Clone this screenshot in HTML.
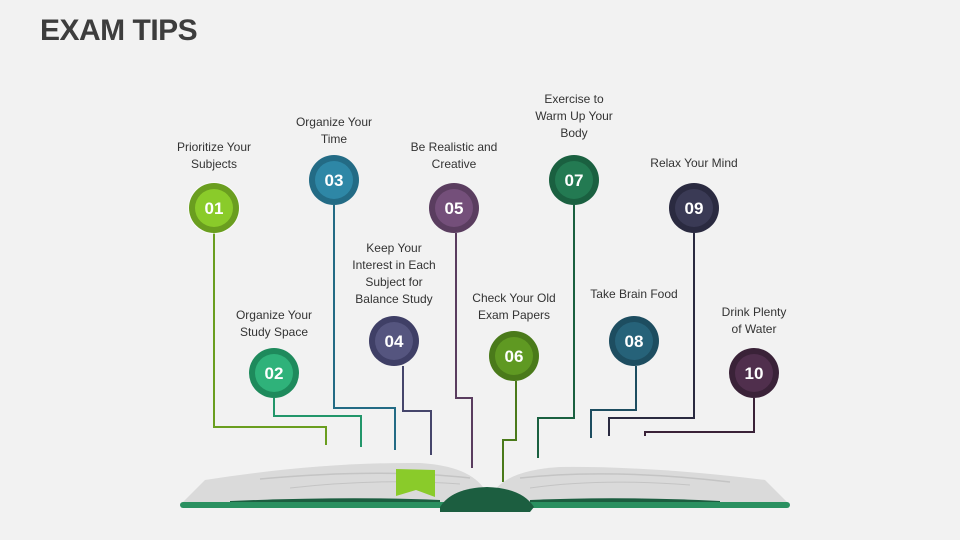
<!DOCTYPE html>
<html><head><meta charset="utf-8"><style>
body{margin:0;background:#f2f2f2;}
#c{position:relative;width:960px;height:540px;overflow:hidden;background:#f2f2f2;font-family:"Liberation Sans",sans-serif;}
h1{position:absolute;left:40px;top:14px;margin:0;font-size:30px;font-weight:bold;color:#3d3d3d;letter-spacing:-0.5px}
.l{position:absolute;width:140px;text-align:center;font-size:12px;line-height:17px;color:#333}
</style></head><body><div id="c">
<h1>EXAM TIPS</h1>
<svg width="960" height="540" style="position:absolute;left:0;top:0">
<g fill="none" stroke-width="2">
<polyline points="214,233 214,427 326,427 326,445" stroke="#6a9e1f"/>
<polyline points="274,398 274,416 361,416 361,447" stroke="#22966a"/>
<polyline points="334,205 334,408 395,408 395,450" stroke="#236b85"/>
<polyline points="403,366 403,411 431,411 431,455" stroke="#45456b"/>
<polyline points="456,233 456,398 472,398 472,468" stroke="#5a3d5f"/>
<polyline points="516,381 516,440 503,440 503,482" stroke="#4a7a1a"/>
<polyline points="574,205 574,418 538,418 538,458" stroke="#1a6040"/>
<polyline points="636,366 636,410 591,410 591,438" stroke="#1d4d60"/>
<polyline points="694,233 694,418 609,418 609,436" stroke="#2a2a40"/>
<polyline points="754,398 754,432 645,432 645,436" stroke="#3a2238"/>
</g>
<g font-family="Liberation Sans" font-weight="bold" font-size="17" fill="#fff" text-anchor="middle">
<g><circle cx="214" cy="208" r="26" fill="#fff" opacity=".6"/><circle cx="214" cy="208" r="25" fill="#6a9e1f"/><circle cx="214" cy="208" r="19" fill="#8acb2a"/><text x="214" y="214">01</text></g>
<g><circle cx="274" cy="373" r="25" fill="#1e8a5c"/><circle cx="274" cy="373" r="19" fill="#2fb27a"/><text x="274" y="379">02</text></g>
<g><circle cx="334" cy="180" r="25" fill="#236b85"/><circle cx="334" cy="180" r="19" fill="#2e87a6"/><text x="334" y="186">03</text></g>
<g><circle cx="394" cy="341" r="25" fill="#3f3f66"/><circle cx="394" cy="341" r="19" fill="#55557f"/><text x="394" y="347">04</text></g>
<g><circle cx="454" cy="208" r="25" fill="#5a3d5f"/><circle cx="454" cy="208" r="19" fill="#744f7a"/><text x="454" y="214">05</text></g>
<g><circle cx="514" cy="356" r="25" fill="#4a7a1a"/><circle cx="514" cy="356" r="19" fill="#5f9922"/><text x="514" y="362">06</text></g>
<g><circle cx="574" cy="180" r="25" fill="#1a6040"/><circle cx="574" cy="180" r="19" fill="#237a52"/><text x="574" y="186">07</text></g>
<g><circle cx="634" cy="341" r="25" fill="#1d4d60"/><circle cx="634" cy="341" r="19" fill="#266279"/><text x="634" y="347">08</text></g>
<g><circle cx="694" cy="208" r="25" fill="#2a2a40"/><circle cx="694" cy="208" r="19" fill="#3a3a55"/><text x="694" y="214">09</text></g>
<g><circle cx="754" cy="373" r="25" fill="#3a2238"/><circle cx="754" cy="373" r="19" fill="#502f4d"/><text x="754" y="379">10</text></g>
</g>
<!-- book -->
<path d="M188,497 L205,480 Q320,462 420,463 Q470,466 485,490 L485,503 L182,503 Z" fill="#dadada"/>
<path d="M782,497 L765,480 Q650,466 560,467 Q510,470 495,490 L495,503 L788,503 Z" fill="#dadada"/>
<path d="M260,479 Q380,468 470,478" stroke="#c4c4c4" fill="none" stroke-width="1.5"/>
<path d="M290,488 Q380,478 460,484" stroke="#c4c4c4" fill="none" stroke-width="1"/>
<path d="M520,478 Q610,468 730,482" stroke="#c4c4c4" fill="none" stroke-width="1.5"/>
<path d="M530,488 Q600,478 690,485" stroke="#c4c4c4" fill="none" stroke-width="1"/>
<path d="M230,501 Q350,496 440,500 L440,503 L230,503 Z" fill="#1c5e40"/>
<path d="M530,500 Q620,496 720,501 L720,503 L530,503 Z" fill="#1c5e40"/>
<rect x="180" y="502" width="610" height="6" rx="3" fill="#2a9060"/>
<path d="M396,469 L435,470 L435,497 L416,490 L396,496 Z" fill="#8acb2a"/>
<path d="M440,507 Q452,488 487,487 Q522,488 534,507 L530,512 L440,512 Z" fill="#1c5e40"/>
</svg>
<div class="l" style="left:144px;top:139px">Prioritize Your<br>Subjects</div>
<div class="l" style="left:204px;top:307px">Organize Your<br>Study Space</div>
<div class="l" style="left:264px;top:114px">Organize Your<br>Time</div>
<div class="l" style="left:324px;top:240px">Keep Your<br>Interest in Each<br>Subject for<br>Balance Study</div>
<div class="l" style="left:384px;top:139px">Be Realistic and<br>Creative</div>
<div class="l" style="left:444px;top:290px">Check Your Old<br>Exam Papers</div>
<div class="l" style="left:504px;top:91px">Exercise to<br>Warm Up Your<br>Body</div>
<div class="l" style="left:564px;top:286px">Take Brain Food</div>
<div class="l" style="left:624px;top:155px">Relax Your Mind</div>
<div class="l" style="left:684px;top:304px">Drink Plenty<br>of Water</div>
</div></body></html>
